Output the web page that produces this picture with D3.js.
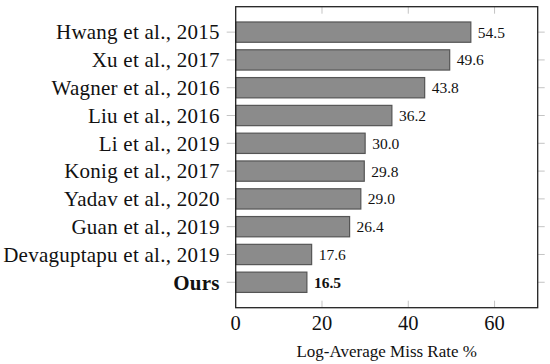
<!DOCTYPE html>
<html><head><meta charset="utf-8">
<script src="https://cdn.jsdelivr.net/npm/d3@7"></script>
<style>body{margin:0;background:#fff;} svg{display:block;font-family:"Liberation Serif",serif;}</style>
</head><body>
<script>
const categories = ["Hwang et al., 2015","Xu et al., 2017","Wagner et al., 2016","Liu et al., 2016","Li et al., 2019","Konig et al., 2017","Yadav et al., 2020","Guan et al., 2019","Devaguptapu et al., 2019","Ours"];
const values = [54.5,49.6,43.8,36.2,30.0,29.8,29.0,26.4,17.6,16.5];
const xTicks = [0,20,40,60];
const xTitle = "Log-Average Miss Rate %";
const highlight = "Ours";

const W=550,H=364;
const L=235.7,R=537.7,T=6.7,B=307.7;
const svg=d3.select("body").append("svg").attr("width",W).attr("height",H);
const x=d3.scaleLinear().domain([0,70]).range([L,R]);
const y=d3.scaleBand().domain(categories).range([T,B]).paddingInner(0.27).paddingOuter(0.55);

const tickCol="#c4c4c4";
svg.append("g").selectAll("line").data(categories).join("line")
  .attr("x1",L-9).attr("x2",L).attr("y1",d=>y(d)+y.bandwidth()/2).attr("y2",d=>y(d)+y.bandwidth()/2)
  .attr("stroke",tickCol).attr("stroke-width",1);
svg.append("g").selectAll("line").data(categories).join("line")
  .attr("x1",R).attr("x2",R+7).attr("y1",d=>y(d)+y.bandwidth()/2).attr("y2",d=>y(d)+y.bandwidth()/2)
  .attr("stroke",tickCol).attr("stroke-width",1);
svg.append("g").selectAll("line").data(xTicks.filter(d=>d>0)).join("line")
  .attr("x1",d=>x(d)).attr("x2",d=>x(d)).attr("y1",B).attr("y2",B-7).attr("stroke",tickCol);
svg.append("g").selectAll("line").data(xTicks.filter(d=>d>0)).join("line")
  .attr("x1",d=>x(d)).attr("x2",d=>x(d)).attr("y1",T).attr("y2",T+7).attr("stroke",tickCol);

svg.append("g").selectAll("rect").data(values).join("rect")
  .attr("x",x(0)).attr("y",(d,i)=>y(categories[i])).attr("width",d=>x(d)-x(0)).attr("height",y.bandwidth())
  .attr("fill","#8b8b8b").attr("stroke","#555").attr("stroke-width",1.2);

svg.append("g").selectAll("text").data(values).join("text")
  .attr("x",d=>x(d)+7).attr("y",(d,i)=>y(categories[i])+y.bandwidth()/2).attr("dy","0.35em")
  .attr("font-size",15.5).attr("fill","#111")
  .attr("font-weight",(d,i)=>categories[i]===highlight?"bold":"normal")
  .text(d=>d.toFixed(1));

svg.append("g").selectAll("text").data(categories).join("text")
  .attr("x",L-16).attr("y",d=>y(d)+y.bandwidth()/2).attr("dy","0.35em")
  .attr("text-anchor","end").attr("font-size",21).attr("letter-spacing","0.25px").attr("fill","#111")
  .attr("font-weight",d=>d===highlight?"bold":"normal")
  .text(d=>d);

svg.append("rect").attr("x",L).attr("y",T).attr("width",R-L).attr("height",B-T)
  .attr("fill","none").attr("stroke","#222").attr("stroke-width",1.3);

svg.append("g").selectAll("text").data(xTicks).join("text")
  .attr("x",d=>x(d)).attr("y",330).attr("text-anchor","middle").attr("font-size",20.5).attr("fill","#111")
  .text(d=>d);

svg.append("text").attr("x",(L+R)/2).attr("y",357).attr("text-anchor","middle")
  .attr("font-size",17).attr("fill","#111").text(xTitle);
</script>
</body></html>
